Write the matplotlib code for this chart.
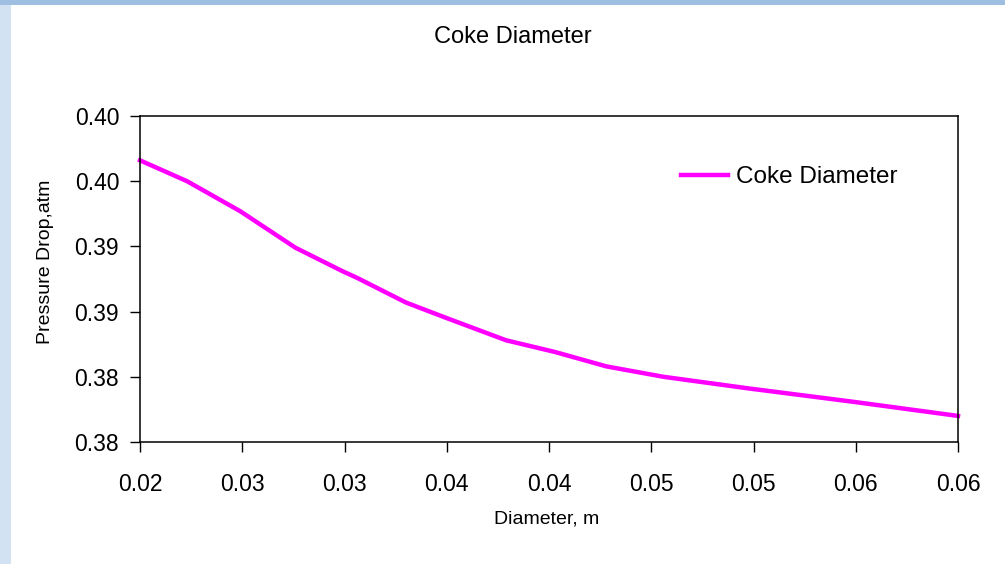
import matplotlib.pyplot as plt
from matplotlib.patches import Rectangle

plt.rcParams['font.family'] = ['Liberation Sans', 'DejaVu Sans']

# pressure drop vs coke diameter
diameter = [0.0200, 0.0223, 0.0249, 0.0276, 0.0299, 0.0306, 0.0330, 0.0350,
            0.0379, 0.0403, 0.0428, 0.0456, 0.0498, 0.0548, 0.0600]
pressure_drop = [0.3966, 0.3950, 0.3927, 0.3899, 0.3881, 0.3876, 0.3857, 0.3845,
                 0.3828, 0.3819, 0.3808, 0.3800, 0.3791, 0.3781, 0.3770]

x_ticks = [0.020, 0.025, 0.030, 0.035, 0.040, 0.045, 0.050, 0.055, 0.060]
x_tick_labels = ['0.02', '0.03', '0.03', '0.04', '0.04', '0.05', '0.05', '0.06', '0.06']
y_ticks = [0.375, 0.380, 0.385, 0.390, 0.395, 0.400]
y_tick_labels = ['0.38', '0.38', '0.39', '0.39', '0.40', '0.40']

W, H = 1005, 564
fig = plt.figure(figsize=(W / 100, H / 100), dpi=100)
fig.patch.set_facecolor('#d3e2f2')

# slide background strips around the white chart area
fig.add_artist(Rectangle((0, 1 - 5 / H), 1, 5 / H, transform=fig.transFigure,
                         facecolor='#9fbfe2', edgecolor='none', zorder=0))
fig.add_artist(Rectangle((11 / W, 0), 1 - 11 / W, 1 - 5 / H, transform=fig.transFigure,
                         facecolor='white', edgecolor='none', zorder=0))

ax = fig.add_axes([140 / W, 1 - 442 / H, (958 - 140) / W, (442 - 116) / H])
ax.set_facecolor('none')

ax.plot(diameter, pressure_drop, color='#ff00ff', lw=3.2, label='Coke Diameter',
        solid_joinstyle='round', clip_on=False)

ax.set_xlim(0.02, 0.06)
ax.set_ylim(0.375, 0.400)
ax.set_xticks(x_ticks)
ax.set_xticklabels(x_tick_labels)
ax.set_yticks(y_ticks)
ax.set_yticklabels(y_tick_labels)
ax.tick_params(axis='both', direction='out', length=7, width=1, color='black', labelsize=16.5)
ax.tick_params(axis='x', pad=15)
ax.tick_params(axis='y', pad=8)

for sp in ax.spines.values():
    sp.set_linewidth(1.1)
    sp.set_color('black')

ax.set_xlabel('Diameter, m', fontsize=14)
ax.xaxis.set_label_coords(0.5 - 2 / 818, (442 - 510) / 326)
ax.set_ylabel('Pressure Drop,atm', fontsize=14)
ax.yaxis.set_label_coords((54 - 140) / 818, (442 - 262) / 326)

fig.text(513 / W, 1 - 37 / H, 'Coke Diameter', fontsize=17, ha='center', va='center')

ax.legend(loc='center left', bbox_to_anchor=(681 / W, 1 - 177 / H),
          bbox_transform=fig.transFigure, frameon=False, fontsize=17.5,
          handlelength=1.95, handletextpad=0.3, borderpad=0, borderaxespad=0)

fig.savefig('out.png', dpi=100, facecolor=fig.get_facecolor())
